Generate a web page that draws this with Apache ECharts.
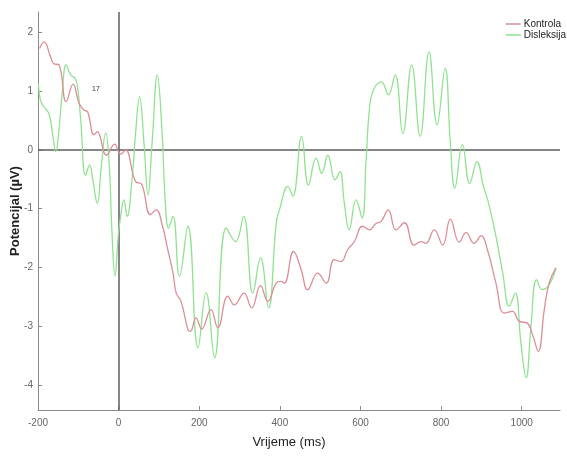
<!DOCTYPE html>
<html>
<head>
<meta charset="utf-8">
<script src="https://cdn.jsdelivr.net/npm/echarts@6/dist/echarts.min.js"></script>
<style>
html,body{margin:0;padding:0;background:#fff;}
#c{width:567px;height:457px;}
</style>
</head>
<body>
<div id="c"></div>
<script>
var xTicks = [-200, 0, 200, 400, 600, 800, 1000];
var yTicks = [-4, -3, -2, -1, 0, 1, 2];

var kontrolaTime = [-196,-185,-169,-161,-148,-130,-113,-98,-86,-77,-61,-53,-30,-10,1,6,17,42,57,79,93,109,122,135,143,155,172,178,192,206,229,246,271,287,311,330,352,370,391,403,411,434,453,469,494,515,535,552,568,585,605,622,639,651,669,688,709,733,750,762,783,804,823,845,862,882,899,915,936,957,977,994,1014,1027,1041,1056,1068,1085];
var kontrolaValues = [1.73,1.84,1.59,1.47,1.45,0.82,1.12,0.79,0.68,0.65,0.26,0.31,-0.09,0.10,-0.05,-0.07,0.0,-0.54,-0.58,-1.10,-1.02,-1.30,-1.70,-2.10,-2.44,-2.58,-3.06,-3.09,-2.86,-3.05,-2.72,-3.03,-2.49,-2.64,-2.44,-2.69,-2.31,-2.58,-2.27,-2.24,-2.27,-1.73,-2.04,-2.38,-2.10,-2.27,-1.87,-1.90,-1.70,-1.56,-1.30,-1.36,-1.25,-1.22,-1.02,-1.36,-1.24,-1.62,-1.56,-1.59,-1.36,-1.62,-1.18,-1.57,-1.41,-1.59,-1.46,-1.70,-2.27,-2.78,-2.75,-2.92,-2.95,-3.15,-3.43,-2.72,-2.27,-2.01];

var disleksijaTime = [-199,-194,-186,-173,-164,-156,-148,-140,-130,-119,-108,-102,-94,-82,-72,-64,-53,-43,-32,-24,-16,-9,-1,5,13,21,34,42,52,63,73,83,96,107,116,124,135,151,172,197,217,238,267,290,310,333,352,372,391,399,420,432,454,471,490,504,519,537,549,560,572,589,604,614,622,632,652,669,686,705,727,748,770,790,810,823,834,853,871,889,905,918,936,953,969,984,998,1011,1023,1037,1051,1068,1085];
var disleksijaValues = [1.13,0.85,0.74,0.62,0.28,-0.03,0.34,0.96,1.45,1.28,1.22,1.08,0.51,-0.43,-0.26,-0.51,-0.91,-0.28,0.29,-0.17,-1.47,-2.15,-1.47,-1.13,-0.85,-1.13,-0.45,0.28,0.91,0.11,-0.77,0.11,1.28,0.40,-0.91,-1.33,-1.13,-2.15,-1.30,-3.37,-2.43,-3.54,-1.33,-1.56,-1.13,-2.44,-1.84,-2.69,-1.25,-1.02,-0.62,-0.79,0.23,-0.60,-0.14,-0.40,-0.09,-0.51,-0.37,-0.91,-1.36,-0.85,-1.16,-0.17,0.68,1.02,1.16,0.94,1.28,0.28,1.45,0.23,1.67,0.43,1.39,0.11,-0.65,0.09,-0.57,-0.20,-0.62,-0.91,-1.47,-2.10,-2.66,-2.44,-3.29,-3.88,-3.0,-2.21,-2.38,-2.30,-2.01];

var seriesNames = ['Kontrola', 'Disleksija'];

function pairs(t, v) { return t.map(function (x, i) { return [x, v[i]]; }); }

var chart = echarts.init(document.getElementById('c'), null, {renderer: 'canvas'});
chart.setOption({
  animation: false,
  backgroundColor: '#fff',
  textStyle: {fontFamily: 'Liberation Sans, Arial, sans-serif'},
  grid: {left: 38, right: 7, top: 12, bottom: 47, containLabel: false, outerBoundsMode: 'none'},
  legend: {
    orient: 'vertical', right: -4, top: 14, itemGap: 1,
    itemWidth: 15, itemHeight: 1.5, icon: 'rect',
    textStyle: {fontSize: 10, color: '#222', padding: [0, 0, 0, -2]},
    data: seriesNames
  },
  xAxis: {
    type: 'value', min: -200, max: 1095,
    name: 'Vrijeme (ms)', nameLocation: 'middle', nameGap: 26, nameMoveOverlap: false,
    nameTextStyle: {fontSize: 13, color: '#222', padding: [0, 20, 0, 0]},
    axisLine: {onZero: false, lineStyle: {color: '#8a8a8a', width: 1}},
    axisTick: {inside: true, length: 4, lineStyle: {color: '#8a8a8a'}, customValues: xTicks},
    axisLabel: {fontSize: 10, color: '#666', margin: 8, customValues: xTicks,
      formatter: function (v) { return String(v); }},
    splitLine: {show: false}
  },
  yAxis: {
    type: 'value', min: -4.43, max: 2.35,
    name: 'Potencijal (\u00b5V)', nameLocation: 'middle', nameGap: 16, nameMoveOverlap: false,
    nameTextStyle: {fontSize: 13, fontWeight: 'bold', color: '#222'},
    axisLine: {show: true, onZero: false, lineStyle: {color: '#8a8a8a', width: 1}},
    axisTick: {show: true, inside: true, length: 4, lineStyle: {color: '#8a8a8a'}, customValues: yTicks},
    axisLabel: {fontSize: 10, color: '#666', margin: 5, customValues: yTicks,
      formatter: function (v) { return String(v); }},
    splitLine: {show: false}
  },
  graphic: [{
    type: 'text', left: 92, top: 86,
    style: {text: '17', fontSize: 7, fill: '#333', fontFamily: 'Liberation Sans, Arial, sans-serif'}
  }],
  series: [{
    name: seriesNames[0], type: 'line', smooth: 0.45, symbol: 'none',
    color: '#dc8e97',
    lineStyle: {width: 1.3, color: '#dc8e97'},
    data: pairs(kontrolaTime, kontrolaValues),
    z: 3
  }, {
    name: seriesNames[1], type: 'line', smooth: 0.45, symbol: 'none',
    color: '#90e290',
    lineStyle: {width: 1.3, color: '#90e290'},
    data: pairs(disleksijaTime, disleksijaValues),
    z: 2,
    markLine: {
      silent: true, symbol: 'none', label: {show: false},
      lineStyle: {color: '#5e5e5e', width: 1.5, type: 'solid'},
      data: [{yAxis: 0}, {xAxis: 0}],
      z: 1
    }
  }]
});
</script>
</body>
</html>
